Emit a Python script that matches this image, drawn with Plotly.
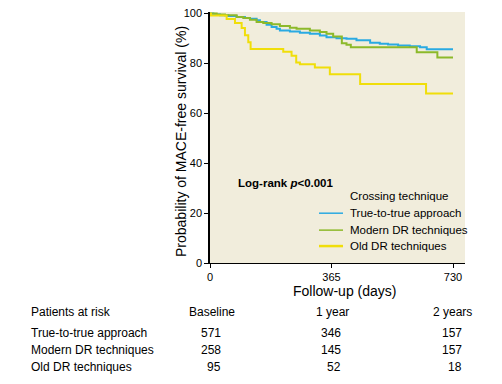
import plotly.graph_objects as go

# ---- data ----
series_names = ["True-to-true approach", "Modern DR techniques", "Old DR techniques"]
series_colors = ["#2AAAE2", "#8CB92A", "#F0DE0A"]

t_true = [0, 10, 30, 55, 80, 105, 120, 140, 150, 170, 185, 200, 210, 240, 270, 300, 330, 350,
          380, 410, 440, 481, 510, 535, 565, 600, 631, 651, 730]
s_true = [100, 99.6, 99.3, 99.0, 98.6, 98.2, 97.9, 97.3, 96.6, 95.5, 94.6, 93.9, 93.2, 92.8, 92.3,
          91.9, 91.2, 90.5, 90.1, 89.9, 89.3, 88.3, 87.9, 87.6, 87.2, 86.9, 86.5, 85.7, 85.7]

t_modern = [0, 20, 45, 80, 100, 120, 140, 160, 185, 210, 240, 260, 300, 330, 350, 370, 396, 410,
            423, 621, 683, 730]
s_modern = [100, 99.6, 99.3, 98.6, 98.2, 97.5, 96.6, 96.2, 95.7, 95.0, 94.3, 93.9, 93.2, 92.6,
            91.9, 90.8, 88.1, 87.5, 86.5, 84.5, 82.4, 82.4]

t_old = [0, 3, 50, 75, 95, 105, 115, 122, 220, 245, 259, 270, 315, 360, 451, 649, 730]
s_old = [100, 99.2, 97.8, 96.2, 94.2, 91.3, 88.5, 85.8, 84.7, 83.1, 80.4, 79.7, 78.4, 75.7, 71.7,
         67.9, 67.9]

x_ticks = [0, 365, 730]
y_ticks = [0, 20, 40, 60, 80, 100]

risk_header = ["Baseline", "1 year", "2 years"]
risk_true = [571, 346, 157]
risk_modern = [258, 145, 157]
risk_old = [95, 52, 18]

# ---- figure ----
FONT = "Liberation Sans, Arial, sans-serif"

fig = go.Figure()
for name, color, t, s in zip(series_names, series_colors,
                             [t_true, t_modern, t_old], [s_true, s_modern, s_old]):
    fig.add_trace(go.Scatter(x=t, y=s, mode="lines", line=dict(color=color, width=2, shape="hv"),
                             name=name, showlegend=False))

W, H = 502, 384
L, R, PT, B = 210, 37, 11, 121      # intended plot area
T_MARGIN = 7
pw, ph = W - L - R, H - PT - B


def px(x):
    return (x - L) / pw


def py(y):
    return (H - B - y) / ph


fig.update_layout(
    width=W, height=H,
    margin=dict(l=L, r=R, t=T_MARGIN, b=B, pad=0),
    paper_bgcolor="white",
    plot_bgcolor="#F1EDDC",
    font=dict(family=FONT, size=11, color="black"),
    xaxis=dict(range=[0, 766], tickvals=x_ticks, ticktext=[str(v) for v in x_ticks],
               showgrid=False, zeroline=False, showline=True, linecolor="black", linewidth=1,
               ticks="outside", ticklen=4, tickcolor="black", tickfont=dict(size=11)),
    yaxis=dict(range=[0, 100.6], tickvals=y_ticks, showgrid=False, zeroline=False,
               showline=True, linecolor="black", linewidth=1.5,
               ticks="outside", ticklen=4, tickcolor="black", tickfont=dict(size=11)),
)

ann = []
# axis titles
ann.append(dict(text="Probability of MACE-free survival (%)", x=px(181.5), y=py(141), xref="paper",
                yref="paper", textangle=-90, showarrow=False, font=dict(size=14),
                xanchor="center", yanchor="middle"))
ann.append(dict(text="Follow-up (days)", x=px(344), y=py(291), xref="paper", yref="paper",
                showarrow=False, font=dict(size=14), xanchor="center", yanchor="middle",
                borderpad=0))
# log-rank
ann.append(dict(text="<b>Log-rank <i>p</i>&lt;0.001</b>", x=px(236), y=py(183), xref="paper",
                yref="paper", showarrow=False, font=dict(size=11.5),
                xanchor="left", yanchor="middle"))
# legend (manual)
ann.append(dict(text="Crossing technique", x=px(348), y=py(196), xref="paper", yref="paper",
                showarrow=False, font=dict(size=11.5), xanchor="left", yanchor="middle"))
leg_y = [213, 230, 246]
leg_w = [1.5, 1.5, 2.5]
for name, color, yy, lw in zip(series_names, series_colors, leg_y, leg_w):
    fig.add_shape(type="line", xref="paper", yref="paper", x0=px(319), x1=px(343), y0=py(yy), y1=py(yy),
                  line=dict(color=color, width=lw))
    ann.append(dict(text=name, x=px(348), y=py(yy), xref="paper", yref="paper", showarrow=False,
                    font=dict(size=11.5), xanchor="left", yanchor="middle"))

# risk table
tbl_font = dict(size=12)
ann.append(dict(text="Patients at risk", x=px(29), y=py(312), xref="paper", yref="paper",
                showarrow=False, font=tbl_font, xanchor="left", yanchor="middle"))
for hdr, cx in zip(risk_header, [212, 332, 452]):
    ann.append(dict(text=hdr, x=px(cx), y=py(312), xref="paper", yref="paper", showarrow=False,
                    font=tbl_font, xanchor="center", yanchor="middle"))
for name, counts, yy in zip(series_names, [risk_true, risk_modern, risk_old], [333, 350, 367]):
    ann.append(dict(text=name, x=px(29), y=py(yy), xref="paper", yref="paper", showarrow=False,
                    font=tbl_font, xanchor="left", yanchor="middle"))
    for c, rx in zip(counts, [223, 343, 464]):
        ann.append(dict(text=str(c), x=px(rx), y=py(yy), xref="paper", yref="paper", showarrow=False,
                        font=tbl_font, xanchor="right", yanchor="middle"))

fig.update_layout(annotations=ann)
fig.write_html("out.html")
